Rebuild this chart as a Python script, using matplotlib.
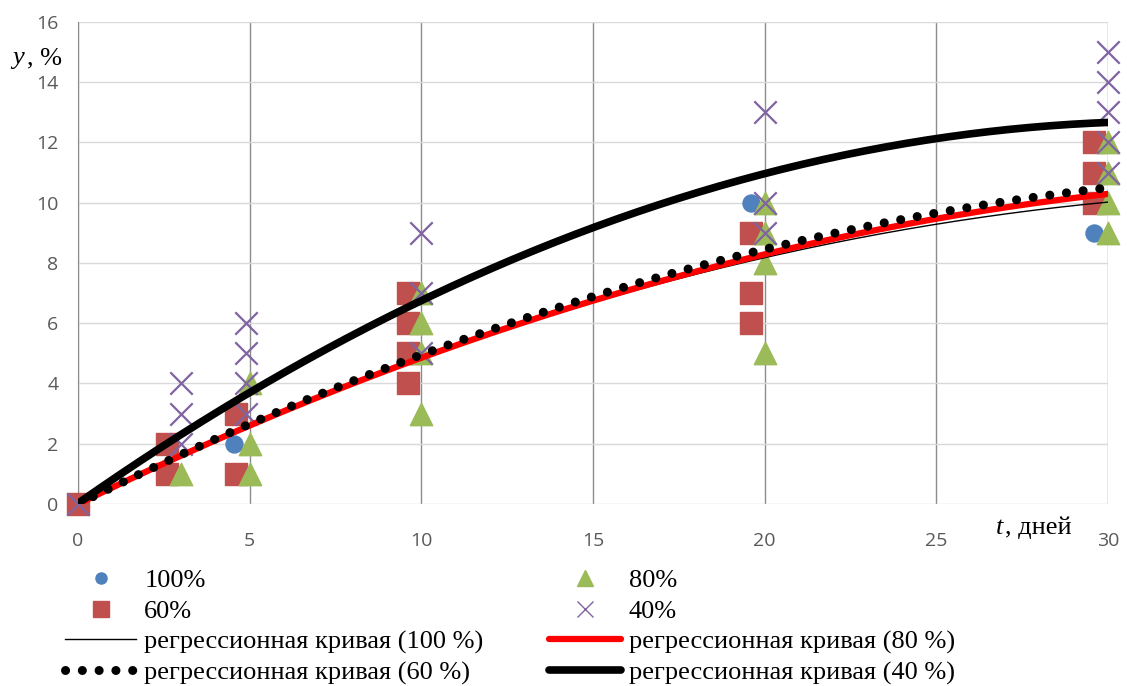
import numpy as np
import matplotlib
matplotlib.use("Agg")
import matplotlib.pyplot as plt
from matplotlib.lines import Line2D

# measured points (x shifted a little in the original for 100 % and 60 %)
x100 = [0, 4.55, 19.6, 29.6]
y100 = [0, 2, 10, 9]

x60 = [0, 2.6, 2.6, 4.6, 4.6, 9.6, 9.6, 9.6, 9.6, 19.6, 19.6, 19.6, 29.6, 29.6, 29.6]
y60 = [0, 2, 1, 3, 1, 7, 6, 5, 4, 9, 7, 6, 12, 11, 10]

x80 = [3, 5, 5, 5, 10, 10, 10, 10, 20, 20, 20, 20, 30, 30, 30, 30]
y80 = [1, 4, 2, 1, 7, 6, 5, 3, 10, 9, 8, 5, 12, 11, 10, 9]

x40 = [0, 3, 3, 3, 4.9, 4.9, 4.9, 4.9, 10, 10, 10, 20, 20, 20, 30, 30, 30, 30, 30]
y40 = [0, 4, 3, 2, 6, 5, 4, 3, 9, 7, 5, 13, 10, 9, 15, 14, 13, 12, 11]

# regression curves at t = 0, 5, ..., 30
t_read = [0, 5, 10, 15, 20, 25, 30]
reg100 = [0, 2.55, 4.8, 6.7, 8.2, 9.3, 10.0]
reg80 = [0, 2.6, 4.85, 6.75, 8.3, 9.45, 10.3]
reg60 = [0, 2.65, 4.95, 6.9, 8.45, 9.65, 10.5]
reg40 = [0, 3.7, 6.8, 9.2, 10.9, 12.1, 12.7]

serif = "Liberation Serif"
tickc = "#595959"
dots = (0, (0.01, 1.85))

fig = plt.figure(figsize=(11.27, 6.86), dpi=100)
ax = fig.add_axes([0.0692, 0.2653, 0.9138, 0.7027])

ax.scatter(x100, y100, s=150, marker="o", color="#4F81BD", zorder=3, clip_on=False)
ax.scatter(x60, y60, s=260, marker="s", color="#C0504D", zorder=3, clip_on=False)
ax.scatter(x80, y80, s=260, marker="^", color="#9BBB59", zorder=3, clip_on=False)
ax.scatter(x40, y40, s=260, marker="x", color="#8064A2", linewidths=1.6, zorder=3,
           clip_on=False)

tt = np.linspace(0, 30, 200)
def smooth(vals):
    return np.polyval(np.polyfit(t_read, vals, 2), tt)

ax.plot(tt, smooth(reg100), color="black", lw=1.0, zorder=4)
ax.plot(tt, smooth(reg80), color="red", lw=4.5, zorder=4)
ax.plot(tt, smooth(reg60), color="black", lw=6.5, linestyle=dots,
        dash_capstyle="round", zorder=5)
ax.plot(tt, smooth(reg40), color="black", lw=5.5, zorder=6)

ax.set_xlim(0, 30)
ax.set_ylim(0, 16)
ax.set_xticks(range(0, 31, 5))
ax.set_yticks(range(0, 17, 2))
ax.set_axisbelow(True)
ax.grid(axis="x", color="#8c8c8c", lw=1.0)
ax.grid(axis="y", color="#d9d9d9", lw=1.0)
for s in ["top", "right", "bottom"]:
    ax.spines[s].set_visible(False)
ax.spines["left"].set_color("#8c8c8c")
ax.tick_params(length=0, labelsize=14, labelcolor=tickc)
ax.tick_params(axis="y", pad=14)
ax.tick_params(axis="x", pad=20)
for lab in ax.get_xticklabels() + ax.get_yticklabels():
    lab.set_family("Open Sans")

fig.text(0.011, 0.915, "y", fontsize=19, family=serif, style="italic", va="center")
fig.text(0.024, 0.915, ", %", fontsize=19, family=serif, va="center")
ax.text(26.95, -0.8, "t", fontsize=19, family=serif, style="italic", ha="right", va="center")
ax.text(27.0, -0.8, ", дней", fontsize=19, family=serif, ha="left", va="center")

handles = [
    Line2D([], [], ls="none", marker="o", ms=8, color="#4F81BD"),
    Line2D([], [], ls="none", marker="s", ms=11, color="#C0504D"),
    Line2D([], [], color="black", lw=1.0),
    Line2D([], [], color="black", lw=6.5, ls=dots, dash_capstyle="round"),
    Line2D([], [], ls="none", marker="^", ms=11, color="#9BBB59"),
    Line2D([], [], ls="none", marker="x", ms=12, mew=1.0, color="#8064A2"),
    Line2D([], [], color="red", lw=4.5, solid_capstyle="round"),
    Line2D([], [], color="black", lw=5.5, solid_capstyle="round"),
]
labels = ["100%", "60%", "регрессионная кривая (100 %)", "регрессионная кривая (60 %)",
          "80%", "40%", "регрессионная кривая (80 %)", "регрессионная кривая (40 %)"]
fig.legend(handles, labels, ncol=2, loc="upper left", bbox_to_anchor=(0.046, 0.19),
           frameon=False, prop={"family": serif, "size": 19}, handlelength=2.7,
           handletextpad=0.3, columnspacing=2.5, labelspacing=0.27, borderpad=0)

fig.savefig("out.png", dpi=100)
